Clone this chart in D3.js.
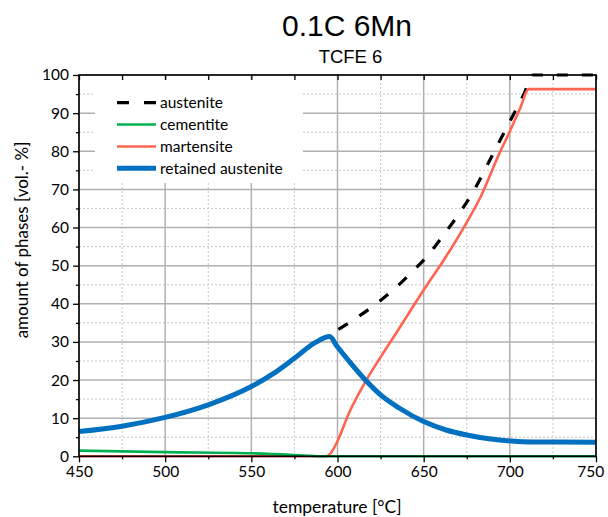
<!DOCTYPE html>
<html><head><meta charset="utf-8">
<script src="https://cdn.jsdelivr.net/npm/d3@7"></script>
<style>body{margin:0;background:#fff}svg{display:block}</style>
</head><body>
<svg id="chart" width="608" height="517"></svg>
<script>
const xTicks = [450, 500, 550, 600, 650, 700, 750];
const xMinor = [475, 525, 575, 625, 675, 725];
const yTicks = [0, 10, 20, 30, 40, 50, 60, 70, 80, 90, 100];
const yMinor = [5, 15, 25, 35, 45, 55, 65, 75, 85, 95];

const retainedT = [450, 475, 500, 525, 550, 562.5, 575, 587, 595.5, 599.5, 607, 617, 625, 636, 650, 663, 675, 688, 701, 713, 750];
const retainedV = [6.5, 7.9, 10.2, 13.5, 18.3, 21.6, 25.7, 29.8, 31.4, 29, 24.8, 19.6, 16.1, 12.6, 9.1, 6.9, 5.6, 4.6, 4.0, 3.75, 3.7];

const austeniteT = [588, 598, 609, 621, 632, 642.5, 653, 662, 670, 679, 688.5, 698, 708, 713.5, 750];
const austeniteV = [30, 32.6, 35.7, 39.5, 43.5, 48, 53, 58.3, 63.3, 69.6, 77.8, 86.1, 94.8, 100, 100];

const martensiteT = [450, 593, 596, 599.5, 607, 617, 625, 635, 650, 663, 673, 683, 694, 700, 706, 711, 750];
const martensiteV = [0, 0, 0.8, 3.5, 11.7, 20.2, 26, 33, 43.6, 52.4, 59.8, 68, 79.5, 85.2, 91.3, 96.3, 96.3];

const cementiteT = [450, 500, 550, 575, 590, 750];
const cementiteV = [1.5, 1.1, 0.8, 0.35, 0, 0];

const seriesNames = ["austenite", "cementite", "martensite", "retained austenite"];

const svg = d3.select("#chart");
const L = 79, R = 596, T = 75, B = 456.3;
const x = d3.scaleLinear().domain([450, 750]).range([L, R]);
const y = d3.scaleLinear().domain([0, 100]).range([B, T]);

const tickFont = "Lato, 'Open Sans', sans-serif";

// grid
const grid = svg.append("g");
grid.selectAll(".gxm").data(xMinor).join("line")
  .attr("x1", d => x(d)).attr("x2", d => x(d)).attr("y1", T).attr("y2", B)
  .attr("stroke", "#c8c8c8").attr("stroke-width", 1).attr("stroke-dasharray", "2,2");
grid.selectAll(".gym").data(yMinor).join("line")
  .attr("y1", d => y(d)).attr("y2", d => y(d)).attr("x1", L).attr("x2", R)
  .attr("stroke", "#c8c8c8").attr("stroke-width", 1).attr("stroke-dasharray", "2,2");
grid.selectAll(".gx").data(xTicks).join("line")
  .attr("x1", d => x(d)).attr("x2", d => x(d)).attr("y1", T).attr("y2", B)
  .attr("stroke", "#b0b0b0").attr("stroke-width", 1.5);
grid.selectAll(".gy").data(yTicks).join("line")
  .attr("y1", d => y(d)).attr("y2", d => y(d)).attr("x1", L).attr("x2", R)
  .attr("stroke", "#b0b0b0").attr("stroke-width", 1.5);

// legend background (covers grid)
svg.append("rect").attr("x", 95).attr("y", 80).attr("width", 208).attr("height", 103).attr("fill", "#fff");

// curves
const line = d3.line().x(d => x(d[0])).y(d => y(d[1])).curve(d3.curveMonotoneX);
const zip = (a, b) => a.map((t, i) => [t, b[i]]);
const plot = svg.append("g");
plot.append("path").attr("d", line(zip(austeniteT, austeniteV)))
  .attr("fill", "none").attr("stroke", "#000").attr("stroke-width", 3.2).attr("stroke-dasharray", "11,14");
plot.append("path").attr("d", line(zip(martensiteT, martensiteV)))
  .attr("fill", "none").attr("stroke", "#ff6450").attr("stroke-width", 2.6);
plot.append("path").attr("d", line(zip(cementiteT, cementiteV)))
  .attr("fill", "none").attr("stroke", "#00b050").attr("stroke-width", 2.6);
plot.append("path").attr("d", line(zip(retainedT, retainedV)))
  .attr("fill", "none").attr("stroke", "#0070c0").attr("stroke-width", 5);

// axes
const fmt = d3.format("d");
const xAxisG = svg.append("g").attr("transform", `translate(0,${B})`)
  .call(d3.axisBottom(x).tickValues(xTicks).tickFormat(fmt).tickSize(6).tickPadding(4));
svg.append("g").attr("transform", `translate(0,${B})`)
  .call(d3.axisBottom(x).tickValues(xMinor).tickFormat("").tickSize(3));
svg.append("g").attr("transform", `translate(${L},0)`)
  .call(d3.axisLeft(y).tickValues(yTicks).tickFormat(fmt).tickSize(6).tickPadding(4));
svg.append("g").attr("transform", `translate(${L},0)`)
  .call(d3.axisLeft(y).tickValues(yMinor).tickFormat("").tickSize(3));
svg.append("g").attr("transform", `translate(0,${T})`)
  .call(d3.axisBottom(x).tickValues(xTicks.concat(xMinor)).tickFormat("").tickSize(5));
svg.selectAll(".domain").remove();
svg.selectAll(".tick line").attr("stroke", "#000").attr("stroke-width", 1.3);
svg.selectAll(".tick text").attr("font-family", tickFont).attr("font-size", 15.5).attr("fill", "#000");
xAxisG.selectAll(".tick text").filter(d => d === 750).attr("text-anchor", "end").attr("dx", "0.5em");

// frame
svg.append("rect").attr("x", L).attr("y", T).attr("width", R - L).attr("height", B - T)
  .attr("fill", "none").attr("stroke", "#000").attr("stroke-width", 1.6);

// legend
const legY = [102.7, 124.5, 146.5, 168.3];
const lg = svg.append("g");
const styles = [
  {c: "#000", w: 3.2, dash: "12,15"},
  {c: "#00b050", w: 2.6, dash: null},
  {c: "#ff6450", w: 2.6, dash: null},
  {c: "#0070c0", w: 5, dash: null}
];
seriesNames.forEach((n, i) => {
  lg.append("line").attr("x1", 117).attr("x2", 156).attr("y1", legY[i]).attr("y2", legY[i])
    .attr("stroke", styles[i].c).attr("stroke-width", styles[i].w)
    .attr("stroke-dasharray", styles[i].dash);
  lg.append("text").attr("x", 160).attr("y", legY[i]).attr("dy", "0.35em")
    .attr("font-family", tickFont).attr("font-size", 15.5).text(n);
});

// titles
svg.append("text").attr("x", 347).attr("y", 36).attr("text-anchor", "middle")
  .attr("font-family", "'Liberation Sans', Arial, sans-serif").attr("font-size", 30).text("0.1C 6Mn");
svg.append("text").attr("x", 350.5).attr("y", 63).attr("text-anchor", "middle")
  .attr("font-family", "'Liberation Sans', Arial, sans-serif").attr("font-size", 18.5).text("TCFE 6");
svg.append("text").attr("x", 337).attr("y", 513).attr("text-anchor", "middle")
  .attr("font-family", tickFont).attr("font-size", 17.5).text("temperature [°C]");
svg.append("text").attr("transform", "translate(28,240) rotate(-90)").attr("text-anchor", "middle")
  .attr("font-family", tickFont).attr("font-size", 17).text("amount of phases [vol.- %]");
</script>
</body></html>
